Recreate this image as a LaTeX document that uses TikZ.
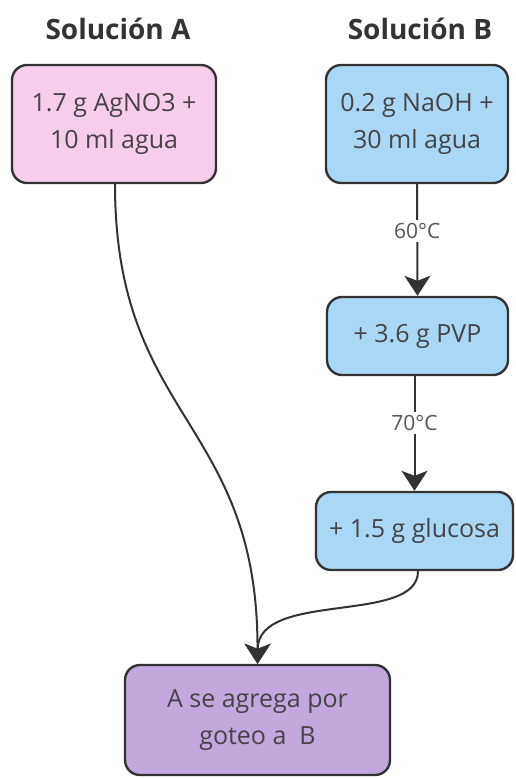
\documentclass[tikz,border=0pt]{standalone}
\usepackage{fontspec}
\setmainfont{Open Sans}
\usetikzlibrary{arrows.meta}
\definecolor{pinkfill}{HTML}{F6CDEB}
\definecolor{bluefill}{HTML}{A9D8F7}
\definecolor{purplefill}{HTML}{C3A8DE}
\definecolor{edgecol}{HTML}{333333}
\definecolor{txtcol}{HTML}{444444}
\definecolor{lblcol}{HTML}{555555}
\tikzset{
  box/.style={draw=edgecol, line width=2.4pt, rounded corners=15pt, align=center,
    text=txtcol, font=\fontsize{25}{37}\selectfont, inner sep=0pt},
  title/.style={font=\fontsize{28}{30}\selectfont\bfseries, text=edgecol},
  conn/.style={draw=edgecol, line width=2pt, -{Stealth[length=20pt,width=26pt,inset=5pt]}},
  elabel/.style={fill=white, text=lblcol, font=\fontsize{21}{23}\selectfont, inner sep=3pt}
}
\begin{document}
\begin{tikzpicture}[x=1pt,y=-1pt]
\useasboundingbox (0,0) rectangle (515,778);
\node[title] (tA) at (118,29) {Solución A};
\node[title] (tB) at (420,29) {Solución B};
\node[box, fill=pinkfill, minimum width=204pt, minimum height=118pt] (A) at (114,124) {1.7 g AgNO3 +\\10 ml agua};
\node[box, fill=bluefill, minimum width=182pt, minimum height=118pt] (B1) at (417,124) {0.2 g NaOH +\\30 ml agua};
\node[box, fill=bluefill, minimum width=181pt, minimum height=78pt] (B2) at (417.5,336) {+ 3.6 g PVP};
\node[box, fill=bluefill, minimum width=197pt, minimum height=78pt] (B3) at (414.5,531) {+ 1.5 g glucosa};
\node[box, fill=purplefill, minimum width=265pt, minimum height=110pt] (C) at (257.5,720) {A se agrega por\\goteo a~~B};
\draw[conn] (B1.south) -- node[elabel, pos=0.42] {60°C} (B2.north);
\draw[conn] (B2.south -| B3.north) -- node[elabel, pos=0.41] {70°C} (B3.north);
\coordinate (Aout) at ([xshift=1pt]A.south);
\coordinate (B3out) at ([xshift=3.5pt]B3.south);
\draw[conn] (Aout) .. controls (115,420) and (258,420) .. (C.north);
\draw[conn] (B3out) .. controls (418,625) and (258,590) .. (C.north);
\end{tikzpicture}
\end{document}
